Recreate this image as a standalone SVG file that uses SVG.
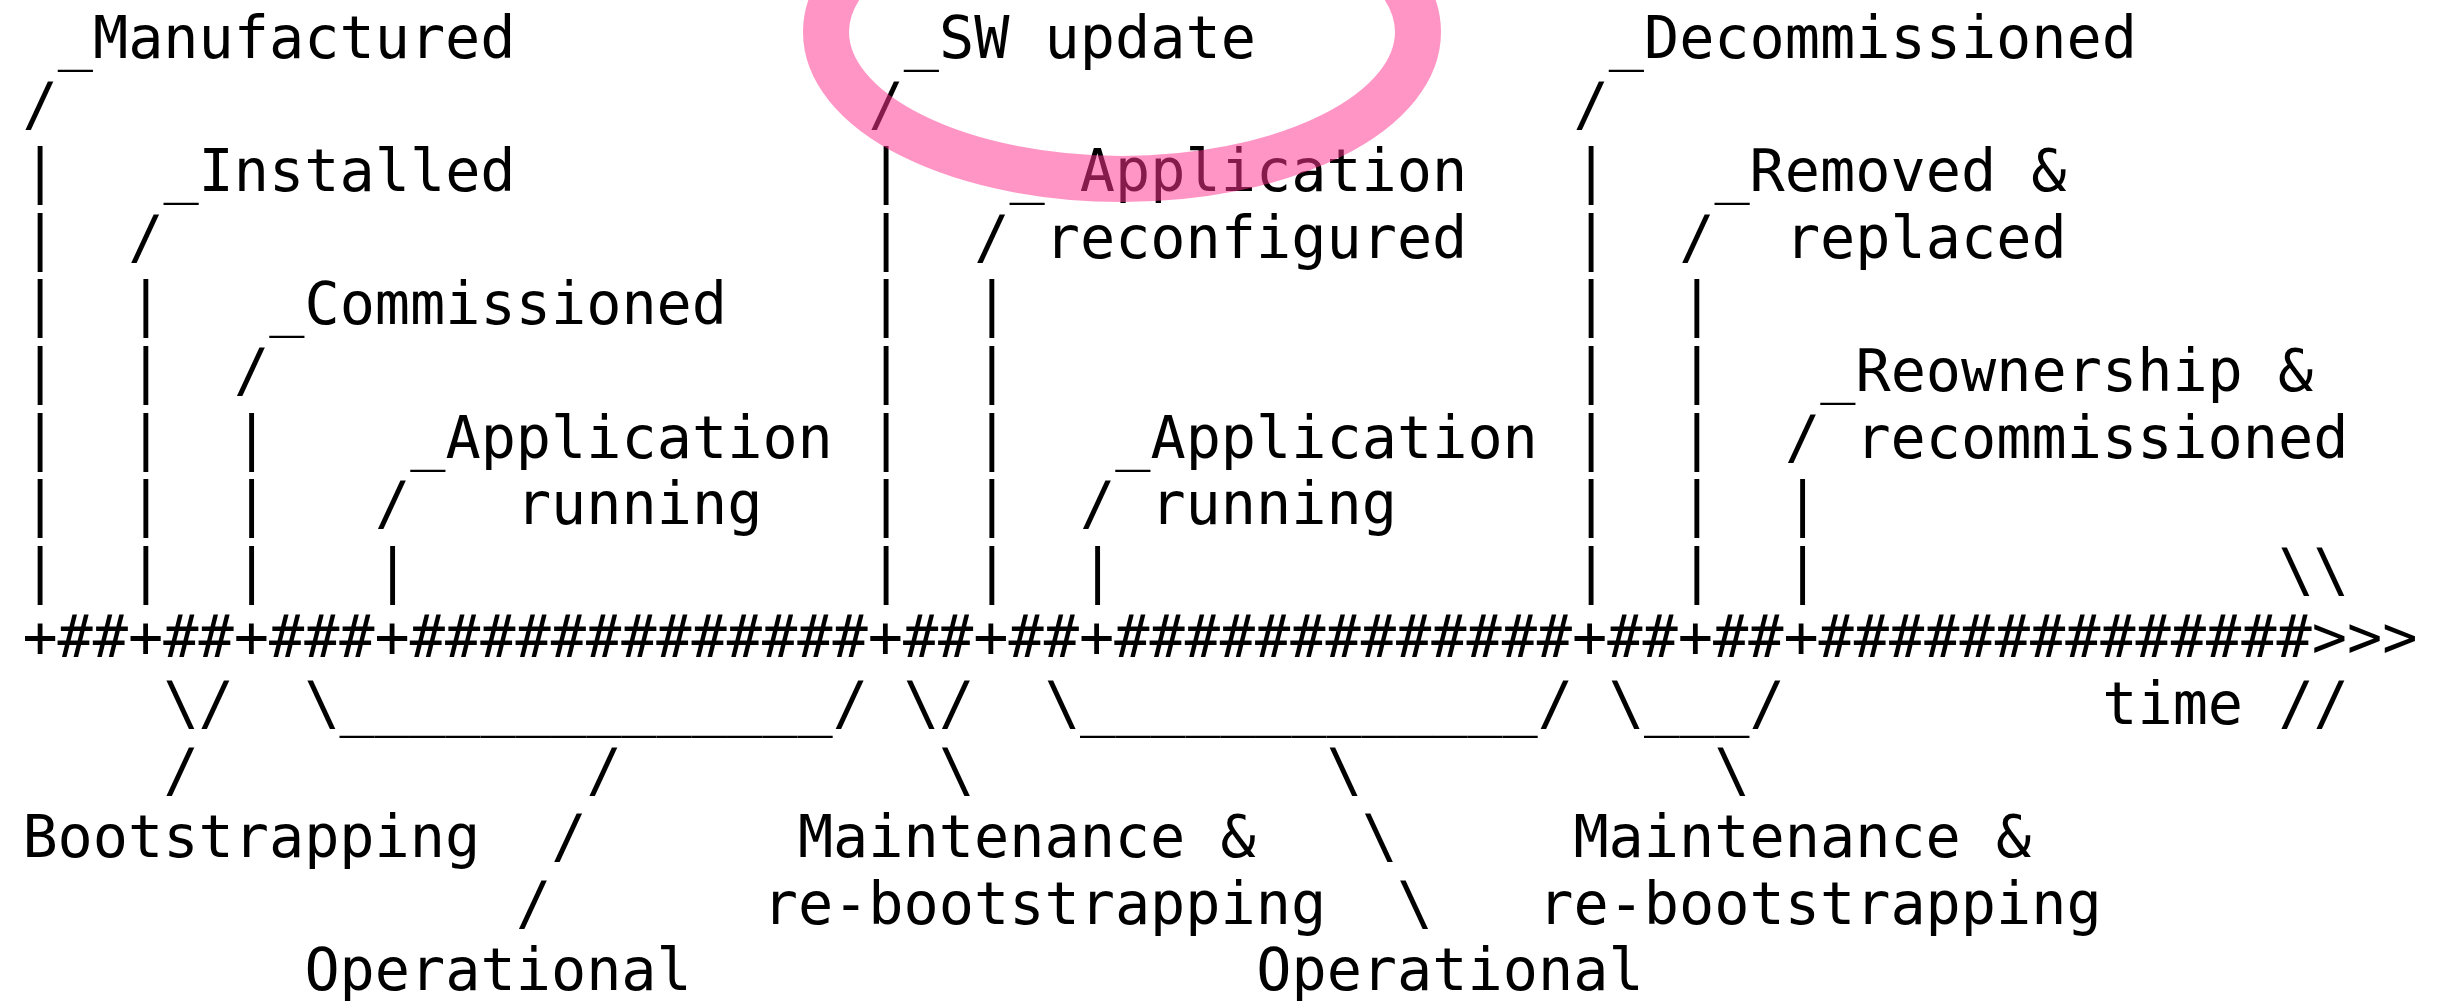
<svg xmlns="http://www.w3.org/2000/svg" width="2440" height="1001" viewBox="0 0 2440 1001">
  <style>
    text { font-family: "DejaVu Sans Mono", "Liberation Mono", monospace; font-size: 58.5px; fill: #000; }
    .mark { fill: none; stroke: #ff3390; stroke-opacity: 0.52; stroke-width: 46; }
  </style>
  <rect width="2440" height="1001" fill="#fff"/>

  <!-- ASCII connector strokes: one text run per row, each glyph placed on its column -->
  <g id="connectors">
    <text x="22.4 868.4 1573.4" y="124.6">///</text>
    <text x="22.4 868.4 1573.4" y="191.2">|||</text>
    <text x="22.4 128.2 868.4 974.2 1573.4 1679.2" y="257.8">|/|/|/</text>
    <text x="22.4 128.2 868.4 974.2 1573.4 1679.2" y="324.4">||||||</text>
    <text x="22.4 128.2 233.9 868.4 974.2 1573.4 1679.2" y="391">||/||||</text>
    <text x="22.4 128.2 233.9 868.4 974.2 1573.4 1679.2 1784.9" y="457.6">|||||||/</text>
    <text x="22.4 128.2 233.9 374.9 868.4 974.2 1079.9 1573.4 1679.2 1784.9" y="524.2">|||/||/|||</text>
    <text x="22.4 128.2 233.9 374.9 868.4 974.2 1079.9 1573.4 1679.2 1784.9" y="590.8">||||||||||</text>
    <text x="163.4" y="724">\/</text>
    <text x="304.4" y="724">\______________/</text>
    <text x="903.7" y="724">\/</text>
    <text x="1044.7" y="724">\_____________/</text>
    <text x="1608.7" y="724">\___/</text>
    <text x="163.4 586.4 938.9 1326.7 1714.4" y="790.6">//\\\</text>
    <text x="551.2 1361.9" y="857.2">/\</text>
    <text x="515.9 1397.2" y="923.8">/\</text>
  </g>

  <!-- time axis -->
  <g id="timeline">
    <text x="22.4" y="657.4">+##+##+###+#############+##+##+#############+##+##+##############&gt;&gt;&gt;</text>
    <text x="2278.4" y="590.8">\\</text>
    <text x="2102.2" y="724">time</text>
    <text x="2278.4" y="724">//</text>
  </g>

  <!-- lifecycle events -->
  <g id="manufactured"><text x="57.7" y="58">_Manufactured</text></g>
  <g id="sw-update"><text x="903.7" y="58">_SW update</text></g>
  <g id="decommissioned"><text x="1608.7" y="58">_Decommissioned</text></g>
  <g id="installed"><text x="163.4" y="191.2">_Installed</text></g>
  <g id="application-reconfigured">
    <text x="1009.4" y="191.2">_ Application</text>
    <text x="1044.7" y="257.8">reconfigured</text>
  </g>
  <g id="removed-replaced">
    <text x="1714.4" y="191.2">_Removed &amp;</text>
    <text x="1784.9" y="257.8">replaced</text>
  </g>
  <g id="commissioned"><text x="269.2" y="324.4">_Commissioned</text></g>
  <g id="reownership">
    <text x="1820.2" y="391">_Reownership &amp;</text>
    <text x="1855.4" y="457.6">recommissioned</text>
  </g>
  <g id="application-running-1">
    <text x="410.2" y="457.6">_Application</text>
    <text x="515.9" y="524.2">running</text>
  </g>
  <g id="application-running-2">
    <text x="1115.2" y="457.6">_Application</text>
    <text x="1150.4" y="524.2">running</text>
  </g>

  <!-- lifecycle phases -->
  <g id="bootstrapping"><text x="22.4" y="857.2">Bootstrapping</text></g>
  <g id="maintenance-1">
    <text x="797.9" y="857.2">Maintenance &amp;</text>
    <text x="762.7" y="923.8">re-bootstrapping</text>
  </g>
  <g id="maintenance-2">
    <text x="1573.4" y="857.2">Maintenance &amp;</text>
    <text x="1538.2" y="923.8">re-bootstrapping</text>
  </g>
  <g id="operational-1"><text x="304.4" y="990.4">Operational</text></g>
  <g id="operational-2"><text x="1256.2" y="990.4">Operational</text></g>

  <!-- translucent highlight ring around the software update event -->
  <g id="highlight">
    <ellipse class="mark" cx="1122" cy="32" rx="296" ry="147"/>
  </g>
</svg>
